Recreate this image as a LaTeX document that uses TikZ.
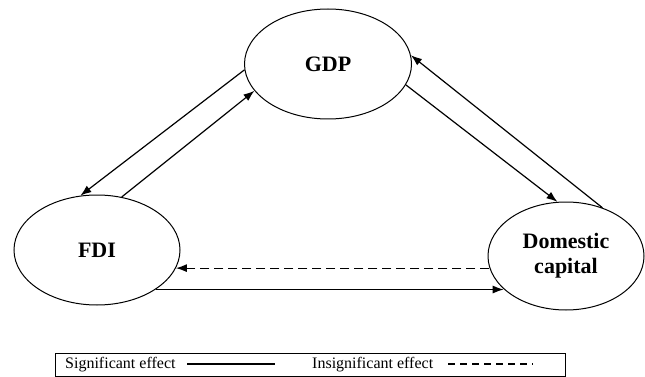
\documentclass[tikz,border=0pt]{standalone}
\usepackage{fontspec}
\setmainfont{Liberation Serif}
\usetikzlibrary{shapes.geometric,arrows.meta}
\begin{document}
\begin{tikzpicture}[x=1pt,y=-1pt,
  oval/.style={draw,ellipse,line width=1pt,inner sep=0pt,font=\fontsize{22}{25}\selectfont\bfseries,align=center},
  link/.style={line width=1.2pt,-{Latex[length=11pt,width=8pt]}},
  legtext/.style={font=\fontsize{16}{18}\selectfont,inner sep=0pt,anchor=west}]
\useasboundingbox (0,0) rectangle (645,377);
\node[oval,minimum width=167pt,minimum height=110pt] (gdp) at (328,64) {GDP};
\node[oval,minimum width=166pt,minimum height=110pt] (fdi) at (97,250) {FDI};
\node[oval,minimum width=156pt,minimum height=108pt] (dom) at (566,256) {Domestic\\capital};
% GDP <-> FDI
\draw[link] (gdp.184) -- (fdi.107);
\draw[link] (fdi.65) -- (gdp.200);
% GDP <-> Domestic
\draw[link] (gdp.345) -- (dom.99);
\draw[link] (dom.53) -- (gdp.6);
% FDI <-> Domestic
\draw[link,dash pattern=on 9pt off 5pt] (dom.189) -- (fdi.-13 |- dom.189);
\draw[link] (fdi.-34) -- (dom.208 |- fdi.-34);
% legend
\draw[line width=1pt] (55,353) rectangle (565,376);
\node[legtext] (sig) at (65,364.5) {Significant effect};
\node[legtext] (insig) at (312,364.5) {Insignificant effect};
\coordinate (s1) at (187,364);
\coordinate (s2) at (275,364);
\coordinate (d1) at (448,364);
\coordinate (d2) at (533,364);
\draw[line width=1.2pt] (s1) -- (s2);
\draw[line width=1.4pt,dash pattern=on 7pt off 5pt] (d1) -- (d2);
\end{tikzpicture}
\end{document}
